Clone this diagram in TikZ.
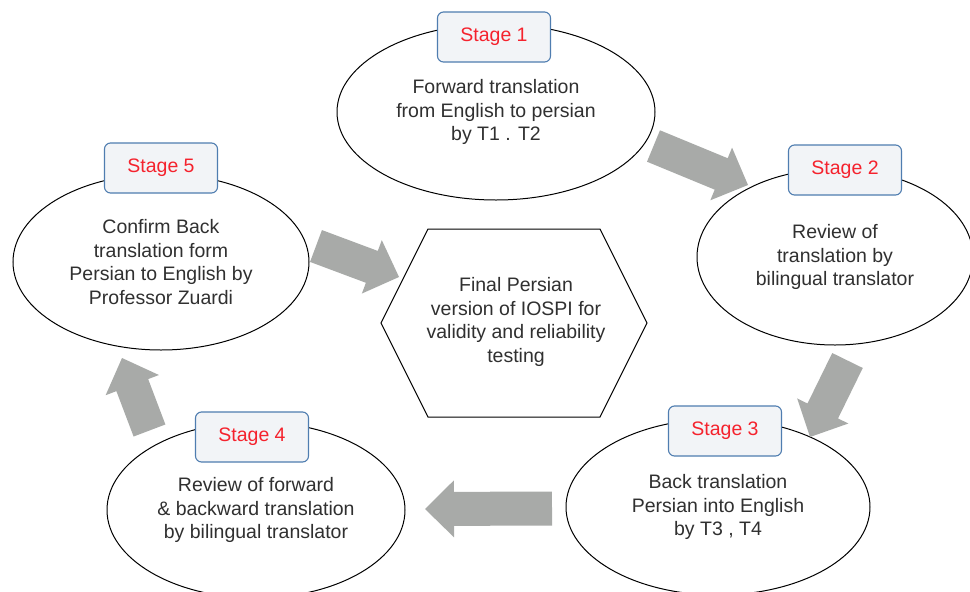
\documentclass[tikz,border=0pt]{standalone}
\usepackage{fontspec}
\setmainfont{Liberation Sans}
\usetikzlibrary{shapes.geometric,calc}
\definecolor{txtgray}{HTML}{303030}
\definecolor{stagered}{HTML}{F5222D}
\definecolor{boxfill}{HTML}{F2F4F7}
\definecolor{boxline}{HTML}{4F7DB0}
\definecolor{arrowfill}{HTML}{A8AAA8}
\tikzset{
  txt/.style={font=\fontsize{19.5}{23.5}\selectfont, text=txtgray, align=center},
  stageell/.style={ellipse, draw=black, line width=1pt, fill=white, inner sep=0pt, txt},
  stagebox/.style={draw=boxline, fill=boxfill, line width=1.1pt, rounded corners=6pt,
     minimum width=113pt, minimum height=50pt, inner sep=0pt,
     font=\fontsize{19.5}{23.5}\selectfont, text=stagered},
  hexline/.style={draw=black, line width=1pt},
}
\newcommand{\blockarrow}[2]{%
  \coordinate (bah) at ($(#2)!29pt!(#1)$);
  \fill[arrowfill] ($(#1)!17pt!90:(#2)$) -- ($(bah)!17pt!90:(#2)$) -- ($(bah)!28.5pt!90:(#2)$)
     -- (#2) -- ($(bah)!28.5pt!-90:(#2)$) -- ($(bah)!17pt!-90:(#2)$) -- ($(#1)!17pt!-90:(#2)$) -- cycle;
}
\begin{document}
\begin{tikzpicture}[x=1pt,y=-1pt]
\useasboundingbox (0,0) rectangle (970,592);
\fill[white] (0,0) rectangle (970,592);
% ellipses
\node[stageell, minimum width=318pt, minimum height=176pt] (e1) at (496,112)
  {Forward translation\\from English to persian\\by T1 . T2};
\node[stageell, minimum width=276pt, minimum height=176pt] (e2) at (835,257)
  {Review of\\translation by\\bilingual translator};
\node[stageell, minimum width=304pt, minimum height=176pt] (e3) at (718,507)
  {Back translation\\Persian into English\\by T3 , T4};
\node[stageell, minimum width=298pt, minimum height=176pt] (e4) at (256,510)
  {Review of forward\\\& backward translation\\by bilingual translator};
\node[stageell, minimum width=296pt, minimum height=176pt] (e5) at (161,262)
  {Confirm Back\\translation form\\Persian to English by\\Professor Zuardi};
% stage boxes
\node[stagebox] (s1) at (494,37) {Stage 1};
\node[stagebox] (s2) at (845,170) {Stage 2};
\node[stagebox] (s3) at (725,431) {Stage 3};
\node[stagebox] (s4) at (252,437) {Stage 4};
\node[stagebox] (s5) at (161,168) {Stage 5};
% hexagon
\coordinate (h1) at (428,229);
\coordinate (h2) at (600,229);
\coordinate (h3) at (647,323);
\coordinate (h4) at (600,417);
\coordinate (h5) at (428,417);
\coordinate (h6) at (381,323);
\draw[hexline] (h1) -- (h2) -- (h3) -- (h4) -- (h5) -- (h6) -- cycle;
\node[txt] (hex) at (516,322) {Final Persian\\version of IOSPI for\\validity and reliability\\testing};
% block arrows
\coordinate (a1s) at (653.5,146); \coordinate (a1e) at (748,185);
\coordinate (a2s) at (847.5,360.5); \coordinate (a2e) at (810,437);
\coordinate (a3s) at (552,508.5); \coordinate (a3e) at (425,509);
\coordinate (a4s) at (149.5,430.5); \coordinate (a4e) at (122,358);
\coordinate (a5s) at (316,246); \coordinate (a5e) at (399,277);
\blockarrow{a1s}{a1e}
\blockarrow{a2s}{a2e}
\blockarrow{a3s}{a3e}
\blockarrow{a4s}{a4e}
\blockarrow{a5s}{a5e}
\end{tikzpicture}
\end{document}
